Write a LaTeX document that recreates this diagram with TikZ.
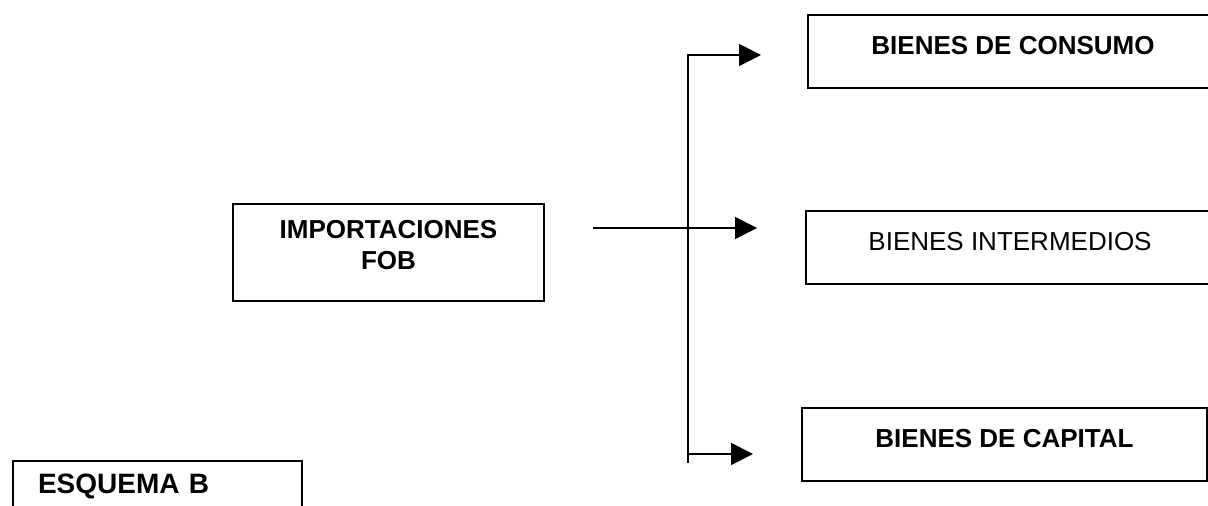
\documentclass[tikz,border=0pt]{standalone}
\usepackage{fontspec}
\setmainfont{Liberation Sans}
\usetikzlibrary{arrows.meta}

\begin{document}
\begin{tikzpicture}[x=0.5pt,y=-0.5pt,
	caja/.style={draw=black,line width=1pt,inner sep=0pt,font=\fontsize{13}{15.5}\selectfont},
	rama/.style={minimum width=#1,text height=20pt,text depth=16.5pt,anchor=north},
	flecha/.style={line width=0.9pt,-{Triangle[length=11pt,width=11pt]}}]
	
	\clip (0,0) rectangle (1208,506);
	
	\node[caja,minimum width=155.5pt,minimum height=48.5pt,align=center] (imp) at (388.5,252.5) {\textbf{IMPORTACIONES}\\\textbf{FOB}\rule[-7.5pt]{0pt}{7.5pt}};
	
	
	\node[caja,rama=205pt] (consumo) at (1013,14)   {\textbf{BIENES DE CONSUMO}};
	\node[caja,rama=204pt] (inter) at (1010,210)   {BIENES INTERMEDIOS};
	\node[caja,rama=202.5pt] (capital) at (1004.5,407)   {\textbf{BIENES DE CAPITAL}};
	
	\node[caja,anchor=north west,font=\fontsize{14}{17}\selectfont,text width=119.5pt,align=left,inner xsep=12.5pt,text height=16.5pt,text depth=14pt] (esquema) at (12,460) {\textbf{ESQUEMA B}};
	
	
	\coordinate (tronco) at (688,55);
	\coordinate (troncofin) at (688,463);
	\coordinate (ramacap) at (688,454);
	\coordinate (salida) at (592,228);
	
	%\draw[flecha] (imp) -- (inter);
	\draw[flecha,shorten <=24pt,shorten >=24pt] (imp.east |- salida) -- (salida -| inter.west);
	\draw[flecha,shorten >=23pt] (troncofin) -- (tronco) -- (tronco -| consumo.west);
	\draw[flecha,shorten >=24pt] (ramacap) -- (ramacap -| capital.west);
	
\end{tikzpicture}
\end{document}
